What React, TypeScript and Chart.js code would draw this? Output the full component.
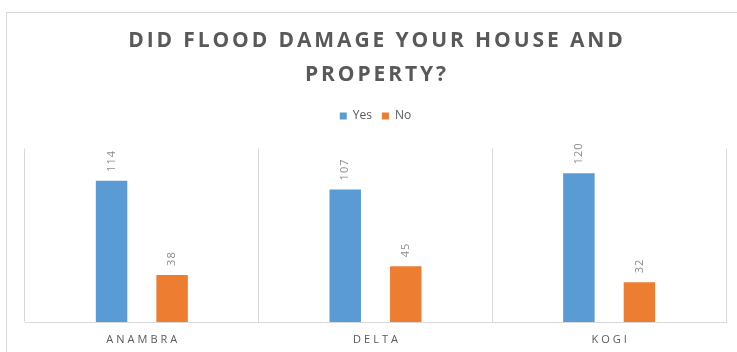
import React, { useEffect, useRef } from "react";
import { Chart, registerables } from "chart.js";

Chart.register(...registerables);

const titleLines = ["DID FLOOD DAMAGE YOUR HOUSE AND", "PROPERTY?"];
const categories = ["ANAMBRA", "DELTA", "KOGI"];
const seriesNames = ["Yes", "No"];
const yesValues = [114, 107, 120];
const noValues = [38, 45, 32];
const seriesColors = ["#5B9BD5", "#ED7D31"];

const decorPlugin = {
  id: "decor",
  beforeDraw(chart: any) {
    const ctx = chart.ctx;
    ctx.save();
    ctx.fillStyle = "#ffffff";
    ctx.fillRect(0, 0, chart.width, chart.height);
    ctx.strokeStyle = "#d9d9d9";
    ctx.lineWidth = 1;
    ctx.strokeRect(6.5, 12.5, chart.width + 20, chart.height + 20);
    ctx.restore();

    const sx: any = chart.scales.x;
    if (sx && !sx._lsPatched) {
      const orig = sx.drawLabels.bind(sx);
      sx.drawLabels = (area: any) => {
        const c = sx.ctx;
        c.save();
        c.letterSpacing = "3px";
        c.translate(1.5, 0);
        orig(area);
        c.restore();
      };
      sx._lsPatched = true;
    }
    const tb: any = chart.titleBlock;
    if (tb && !tb._lsPatched) {
      const origT = tb.draw.bind(tb);
      tb.draw = (...args: any[]) => {
        const c = tb.ctx;
        c.save();
        c.letterSpacing = "2.9px";
        c.translate(1.45, 0);
        origT(...args);
        c.restore();
      };
      tb._lsPatched = true;
    }
  },
  afterDatasetsDraw(chart: any) {
    const ctx = chart.ctx;
    chart.data.datasets.forEach((ds: any, di: number) => {
      const meta = chart.getDatasetMeta(di);
      meta.data.forEach((bar: any, i: number) => {
        ctx.save();
        ctx.translate(bar.x, bar.y - 9);
        ctx.rotate(-Math.PI / 2);
        ctx.font = "11px 'Open Sans'";
        ctx.letterSpacing = "1px";
        ctx.fillStyle = "#8c8c8c";
        ctx.textAlign = "left";
        ctx.textBaseline = "middle";
        ctx.fillText(String(ds.data[i]), 0, 0);
        ctx.restore();
      });
    });
  },
};

export default function App() {
  const ref = useRef<HTMLCanvasElement | null>(null);
  useEffect(() => {
    if (!ref.current) return;
    const chart = new Chart(ref.current, {
      type: "bar",
      data: {
        labels: categories,
        datasets: [
          {
            label: seriesNames[0],
            data: yesValues,
            backgroundColor: seriesColors[0],
            borderWidth: 0,
            categoryPercentage: 0.518,
            barPercentage: 0.52,
          },
          {
            label: seriesNames[1],
            data: noValues,
            backgroundColor: seriesColors[1],
            borderWidth: 0,
            categoryPercentage: 0.518,
            barPercentage: 0.52,
          },
        ],
      },
      options: {
        animation: false,
        responsive: true,
        maintainAspectRatio: false,
        layout: { padding: { top: 0, left: 25, right: 11, bottom: 0 } },
        plugins: {
          title: {
            display: true,
            text: titleLines,
            color: "#595959",
            font: { family: "'Open Sans'", size: 21, weight: "bold", lineHeight: "34.5px" },
            padding: { top: 23.5, bottom: 7.5 },
          },
          subtitle: {
            display: true,
            text: "",
            weight: 500,
            padding: 0,
            font: { size: 10, lineHeight: "16.5px" },
          },
          legend: {
            display: true,
            position: "top",
            labels: {
              boxWidth: 7,
              boxHeight: 7,
              padding: 10,
              color: "#595959",
              font: { family: "'Liberation Sans Narrow', 'Open Sans'", size: 12 },
            },
          },
          tooltip: { enabled: false },
        },
        scales: {
          x: {
            grid: { display: true, color: "#d9d9d9", lineWidth: 1, drawTicks: false, offset: true },
            border: { display: true, color: "#d9d9d9", width: 1 },
            ticks: {
              color: "#595959",
              padding: 11,
              font: { family: "'Open Sans'", size: 11 },
            },
            afterFit: (s: any) => {
              s.height = 30;
            },
          },
          y: {
            display: false,
            min: 0,
            max: 140,
            grid: { display: false },
          },
        },
      },
      plugins: [decorPlugin],
    } as any);
    return () => chart.destroy();
  }, []);
  return (
    <div style={{ position: "fixed", left: 0, top: 0, width: 737, height: 352, background: "#fff" }}>
      <canvas ref={ref} />
    </div>
  );
}
